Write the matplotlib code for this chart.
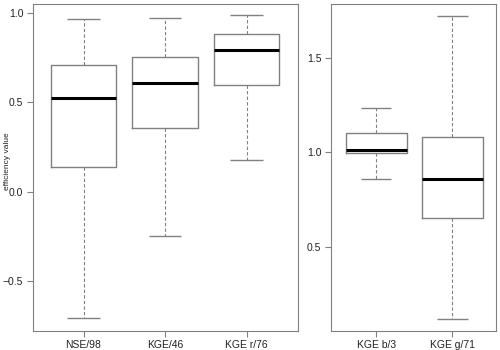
import matplotlib.pyplot as plt

plt.rcParams['font.family'] = ['Liberation Sans', 'DejaVu Sans']

# left panel: efficiency metrics
left_labels = ['NSE/98', 'KGE/46', 'KGE r/76']
left_lo = [-0.704, -0.247, 0.18]
left_q1 = [0.137, 0.356, 0.597]
left_med = [0.524, 0.609, 0.794]
left_q3 = [0.706, 0.756, 0.88]
left_hi = [0.965, 0.969, 0.986]

# right panel: KGE components
right_labels = ['KGE b/3', 'KGE g/71']
right_lo = [0.86, 0.121]
right_q1 = [0.998, 0.652]
right_med = [1.014, 0.86]
right_q3 = [1.101, 1.082]
right_hi = [1.233, 1.72]

GRAY = '#808080'


def make_stats(labels, lo, q1, med, q3, hi):
    return [dict(label=l, whislo=a, q1=b, med=c, q3=d, whishi=e, fliers=[])
            for l, a, b, c, d, e in zip(labels, lo, q1, med, q3, hi)]


def draw(ax, stats):
    ax.bxp(stats, widths=0.8, showfliers=False,
           boxprops=dict(color=GRAY, linewidth=1),
           whiskerprops=dict(color=GRAY, linewidth=0.8, linestyle=(0, (3, 2))),
           capprops=dict(color=GRAY, linewidth=1, solid_capstyle='butt'),
           medianprops=dict(color='black', linewidth=2.2, solid_capstyle='butt'),
           capwidths=0.4)
    for s in ax.spines.values():
        s.set_color(GRAY)
    ax.tick_params(colors=GRAY, labelcolor='#222222', labelsize=7.5,
                   length=4, width=0.8, pad=3)


fig = plt.figure(figsize=(5, 3.5), dpi=100)
ax1 = fig.add_axes([0.066, 0.055, 0.53, 0.934])
ax2 = fig.add_axes([0.662, 0.055, 0.33, 0.934])

draw(ax1, make_stats(left_labels, left_lo, left_q1, left_med, left_q3, left_hi))
ax1.set_xlim(0.38, 3.63)
ax1.set_ylim(-0.775, 1.05)
ax1.set_yticks([-0.5, 0.0, 0.5, 1.0])
ax1.set_ylabel('efficiency value', fontsize=6, color='#222222')
ax1.yaxis.set_label_coords(-0.083, 0.519)

draw(ax2, make_stats(right_labels, right_lo, right_q1, right_med, right_q3, right_hi))
ax2.set_xlim(0.41, 2.57)
ax2.set_ylim(0.057, 1.784)
ax2.set_yticks([0.5, 1.0, 1.5])

fig.savefig('out.png', dpi=100)
